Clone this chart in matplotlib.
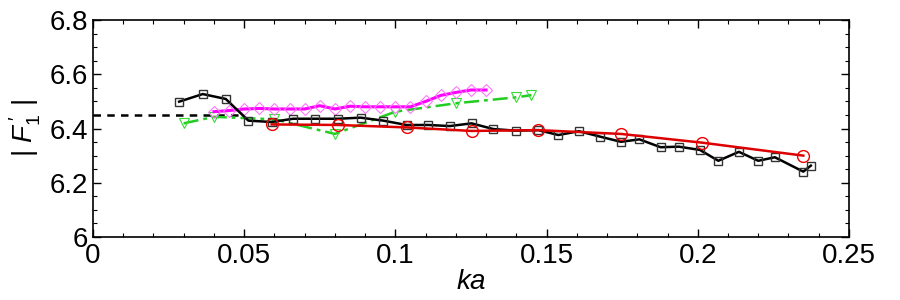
import matplotlib
matplotlib.use("Agg")
import matplotlib.pyplot as plt
from matplotlib.ticker import MultipleLocator, FixedLocator

plt.rcParams['font.family'] = ['Liberation Sans', 'DejaVu Sans']
plt.rcParams['mathtext.fontset'] = 'custom'
plt.rcParams['mathtext.rm'] = 'Liberation Sans'
plt.rcParams['mathtext.it'] = 'Liberation Sans:italic'

# Black squares
ka_black = [0.0285, 0.0363, 0.0439, 0.0514, 0.0591, 0.0662, 0.0734, 0.0811, 0.0885,
            0.0960, 0.1037, 0.1109, 0.1180, 0.1252, 0.1324, 0.1398, 0.1473, 0.1539,
            0.1607, 0.1677, 0.1746, 0.1807, 0.1877, 0.1938, 0.2007, 0.2068, 0.2136,
            0.2200, 0.2255, 0.2349, 0.2374]
f_black = [6.499, 6.527, 6.509, 6.429, 6.424, 6.436, 6.436, 6.436, 6.440,
           6.429, 6.413, 6.413, 6.409, 6.419, 6.398, 6.392, 6.394, 6.376,
           6.390, 6.370, 6.351, 6.360, 6.331, 6.333, 6.321, 6.281, 6.314,
           6.281, 6.294, 6.241, 6.263]

# Red circles
ka_red = [0.0591, 0.0811, 0.1037, 0.1252, 0.1473, 0.1746, 0.2013, 0.2349]
f_red = [6.415, 6.413, 6.404, 6.391, 6.394, 6.380, 6.348, 6.300]

# Magenta diamonds
ka_mag = [0.040, 0.045, 0.050, 0.055, 0.060, 0.065, 0.070, 0.075, 0.080, 0.085,
          0.090, 0.095, 0.100, 0.105, 0.110, 0.115, 0.120, 0.125, 0.130]
f_mag = [6.462, 6.466, 6.472, 6.474, 6.472, 6.472, 6.472, 6.484, 6.472, 6.482,
         6.480, 6.480, 6.480, 6.480, 6.500, 6.522, 6.533, 6.542, 6.542]

# Green triangles
ka_green = [0.030, 0.040, 0.060, 0.080, 0.100, 0.120, 0.140, 0.145]
f_green = [6.419, 6.443, 6.434, 6.380, 6.462, 6.493, 6.515, 6.523]

# Dashed reference
ka_dash = [0.0, 0.05]
f_dash = [6.45, 6.45]

fig = plt.figure(figsize=(9, 3), dpi=100)
ax = fig.add_axes([0.1033, 0.21, 0.84, 0.7233])

ax.plot(ka_dash, f_dash, '--', color='black', lw=1.8, dashes=(3, 2.5))
ax.plot(ka_green, f_green, color='#22cc22', lw=1.8, dashes=(6, 2, 1.5, 2),
        marker='v', ms=7, mfc='none', mec='#33dd33', mew=0.8)
ax.plot(ka_mag, f_mag, '-', color='#ff00ff', lw=2.2, marker='D', ms=6.5,
        mfc='none', mec='#ff77ff', mew=0.8)
ax.plot(ka_black, f_black, '-', color='black', lw=1.8, marker='s', ms=6,
        mfc='none', mec='#333333', mew=1.0)
ax.plot(ka_red, f_red, '-', color='#dd0000', lw=1.8, marker='o', ms=8.5,
        mfc='none', mec='#ee0000', mew=1.0)

ax.set_xlim(0, 0.25)
ax.set_ylim(6.0, 6.8)
ax.xaxis.set_major_locator(FixedLocator([0, 0.05, 0.1, 0.15, 0.2, 0.25]))
ax.set_xticklabels(['0', '0.05', '0.1', '0.15', '0.2', '0.25'])
ax.xaxis.set_minor_locator(MultipleLocator(0.01))
ax.yaxis.set_major_locator(FixedLocator([6.0, 6.2, 6.4, 6.6, 6.8]))
ax.set_yticklabels(['6', '6.2', '6.4', '6.6', '6.8'])
ax.yaxis.set_minor_locator(MultipleLocator(0.05))
ax.tick_params(which='both', direction='in', top=True, right=True, labelsize=20)
ax.tick_params(which='major', length=6, width=1)
ax.tick_params(which='minor', length=3, width=0.8)
ax.tick_params(axis='x', pad=4)
for s in ax.spines.values():
    s.set_linewidth(1.2)

ax.set_xlabel('$\\it{ka}$', fontsize=20, labelpad=0)
ax.set_ylabel("$|\\ F_{\\it{1}}^{\\,\\prime}\\ |$", fontsize=20, labelpad=5)

fig.savefig('out.png', dpi=100)
